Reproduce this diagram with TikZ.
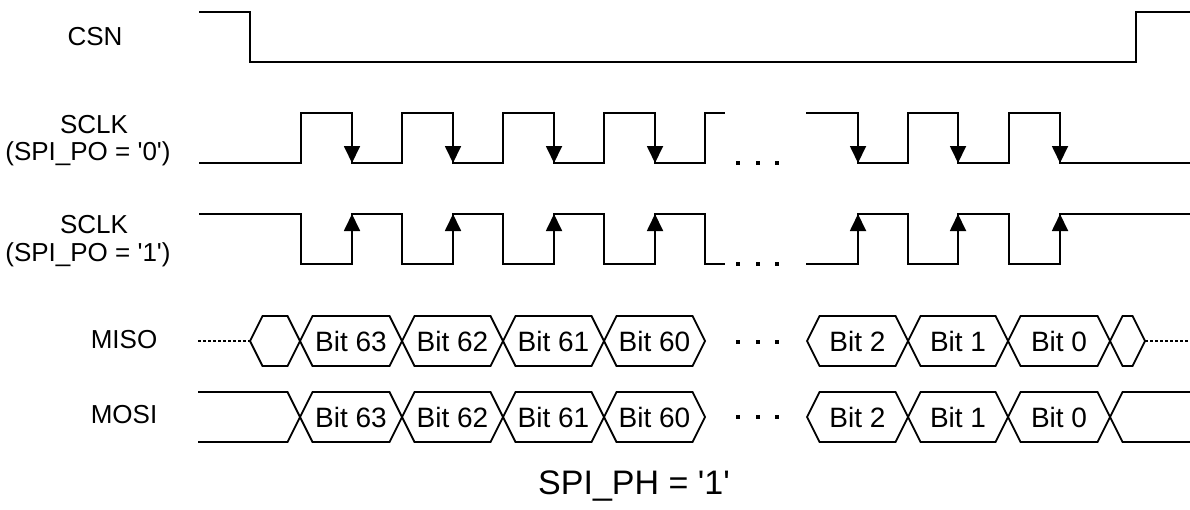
\documentclass[tikz,border=0pt]{standalone}
\usepackage{fontspec}
\setmainfont{Liberation Sans}
\usetikzlibrary{arrows.meta}
\newcommand{\q}{\textquotesingle}
\newcommand{\buscell}[5]{%
  \draw[wave] (#1,#3) -- (#1+12.5,#3-25) -- (#2-12.5,#3-25) -- (#2,#3) -- (#2-12.5,#3+25) -- (#1+12.5,#3+25) -- cycle;
  \node[bitlbl] (#5) at ({(#1+#2)/2},#3) {#4};}
\begin{document}
\begin{tikzpicture}[x=1pt,y=-1pt,
  wave/.style={line width=1.8pt, line join=miter},
  edgearrow/.style={line width=1.8pt, -{Triangle[length=17pt,width=16pt]}},
  lbl/.style={font=\fontsize{26}{30}\selectfont, anchor=base, inner sep=0pt},
  bitlbl/.style={font=\fontsize{28}{32}\selectfont, inner sep=0pt},
  dotmark/.style={fill=black},
  hiz/.style={line width=1.2pt, dash pattern=on 3pt off 2pt}]
\useasboundingbox (0,0) rectangle (1190,509);

% labels
\node[lbl] (csn) at (95,45) {CSN};
\node[lbl] (sclk0a) at (94,133) {SCLK};
\node[lbl] (sclk0b) at (88,160) {(SPI\_PO = \q0\q)};
\node[lbl] (sclk1a) at (94,233) {SCLK};
\node[lbl] (sclk1b) at (88,261) {(SPI\_PO = \q1\q)};
\node[lbl] (miso) at (124,348) {MISO};
\node[lbl] (mosi) at (124,423) {MOSI};
\node[lbl, font=\fontsize{34}{38}\selectfont] (ph) at (634,494) {SPI\_PH = \q1\q};

% CSN
\draw[wave] (199,12) -- (250,12) -- (250,62) -- (1136,62) -- (1136,12) -- (1190,12);

% SCLK, SPI_PO = '0'
\draw[wave] (199,163) -- (301,163) -- (301,113) -- (352,113) -- (352,163)
  -- (402,163) -- (402,113) -- (453,113) -- (453,163)
  -- (503,163) -- (503,113) -- (554,113) -- (554,163)
  -- (604,163) -- (604,113) -- (655,113) -- (655,163)
  -- (705,163) -- (705,113) -- (725,113);
\draw[wave] (806,113) -- (858,113) -- (858,163) -- (908,163) -- (908,113)
  -- (958,113) -- (958,163) -- (1009,163) -- (1009,113) -- (1060,113)
  -- (1060,163) -- (1190,163);
\foreach \x in {352,453,554,655,858,958,1060}
  \draw[edgearrow] (\x,113) -- (\x,163);

% SCLK, SPI_PO = '1'
\draw[wave] (199,214) -- (301,214) -- (301,264) -- (352,264) -- (352,214)
  -- (402,214) -- (402,264) -- (453,264) -- (453,214)
  -- (503,214) -- (503,264) -- (554,264) -- (554,214)
  -- (604,214) -- (604,264) -- (655,264) -- (655,214)
  -- (705,214) -- (705,264) -- (725,264);
\draw[wave] (806,264) -- (858,264) -- (858,214) -- (908,214) -- (908,264)
  -- (958,264) -- (958,214) -- (1009,214) -- (1009,264) -- (1060,264)
  -- (1060,214) -- (1190,214);
\foreach \x in {352,453,554,655,858,958,1060}
  \draw[edgearrow] (\x,264) -- (\x,214);

% dots
\foreach \y in {163,264,342,417}
  \foreach \x in {738,758,777}
    \fill[dotmark] (\x-2.3,\y-2.3) rectangle (\x+2.3,\y+2.3);

% MISO
\draw[hiz] (198,341) -- (250,341);
\draw[hiz] (1145,341) -- (1190,341);
\buscell{250}{300}{341}{}{misoA}
\buscell{300}{402}{341}{Bit 63}{miso63}
\buscell{402}{503}{341}{Bit 62}{miso62}
\buscell{503}{604}{341}{Bit 61}{miso61}
\buscell{604}{705}{341}{Bit 60}{miso60}
\buscell{807}{908}{341}{Bit 2}{miso2}
\buscell{908}{1008}{341}{Bit 1}{miso1}
\buscell{1008}{1110}{341}{Bit 0}{miso0}
\buscell{1110}{1145}{341}{}{misoZ}

% MOSI
\draw[wave] (198,392) -- (287.5,392) -- (300,417) -- (287.5,442) -- (198,442);
\draw[wave] (1190,392) -- (1122.5,392) -- (1110,417) -- (1122.5,442) -- (1190,442);
\buscell{300}{402}{417}{Bit 63}{mosi63}
\buscell{402}{503}{417}{Bit 62}{mosi62}
\buscell{503}{604}{417}{Bit 61}{mosi61}
\buscell{604}{705}{417}{Bit 60}{mosi60}
\buscell{807}{908}{417}{Bit 2}{mosi2}
\buscell{908}{1008}{417}{Bit 1}{mosi1}
\buscell{1008}{1110}{417}{Bit 0}{mosi0}
\end{tikzpicture}
\end{document}
